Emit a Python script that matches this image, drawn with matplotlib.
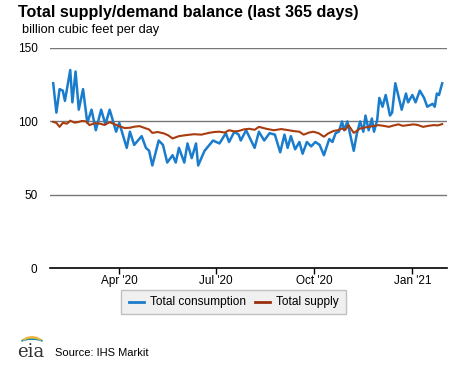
import matplotlib
matplotlib.use("Agg")
import matplotlib.pyplot as plt
from matplotlib.patches import Arc, Rectangle
from matplotlib.lines import Line2D
import pandas as pd

plt.rcParams['font.family'] = ['Liberation Sans', 'DejaVu Sans']

start_date = "2020-01-30"

cons_days = [0, 3, 6, 9, 11, 16, 18, 21, 24, 28, 32, 36, 40, 45, 49, 53, 59, 62,
             69, 72, 76, 83, 87, 90, 93, 99, 103, 107, 112, 115, 118, 123, 126, 130,
             134, 136, 142, 150, 156, 162, 165, 170, 174, 176, 181, 189, 193, 198,
             203, 208, 213, 217, 220, 223, 227, 231, 234, 238, 242, 246, 250, 254,
             259, 262, 265, 268, 271, 273, 276, 279, 282, 285, 288, 291, 293, 296,
             299, 301, 304, 306, 309, 312, 316, 318, 321, 324, 327, 331, 333, 337,
             340, 344, 348, 351, 356, 358, 360, 362, 365]
consumption = [126, 106, 122, 121, 114, 135, 113, 134, 108, 122, 99, 108, 94, 108, 98, 108, 93, 99,
               82, 93, 84, 90, 82, 80, 70, 87, 84, 72, 77, 72, 82, 72, 85, 75,
               85, 70, 80, 87, 85, 92, 86, 93, 91, 87, 94, 82, 93, 87,
               92, 91, 79, 91, 82, 90, 81, 86, 78, 86, 83, 86, 84, 77,
               88, 86, 92, 93, 100, 94, 100, 90, 80, 92, 100, 93, 104, 94,
               102, 93, 101, 116, 110, 118, 104, 106, 126, 117, 108, 119, 113, 118,
               113, 121, 116, 110, 112, 110, 119, 118, 126]

sup_days = [0, 3, 6, 9, 13, 16, 20, 23, 27, 31, 34, 39, 44, 48, 53, 58, 62, 67, 72, 76,
            81, 86, 90, 93, 98, 104, 108, 112, 118, 125, 132, 139, 146, 151, 156, 161,
            165, 170, 174, 179, 184, 189, 193, 200, 207, 214, 221, 226, 231, 235,
            240, 244, 249, 254, 258, 263, 267, 271, 274, 277, 282, 285, 288, 292, 296, 300,
            305, 310, 315, 319, 324, 328, 333, 338, 342, 347, 352, 357, 361, 365]
supply = [99.7, 99.0, 96.3, 99.0, 98.5, 100.5, 99.2, 99.5, 100.3, 100.0, 97.5, 98.8, 98.5, 97.6, 99.5, 98.0, 96.8, 95.5, 95.7, 96.4,
          96.8, 95.5, 94.5, 92.2, 92.8, 91.8, 90.5, 88.4, 90.0, 90.7, 91.3, 91.0, 92.2, 92.8, 93.0, 92.4,
          94.0, 93.2, 93.5, 94.6, 95.0, 94.3, 96.3, 95.0, 94.0, 94.8, 94.0, 93.4, 93.0, 91.0,
          92.4, 93.0, 92.0, 89.6, 91.8, 93.5, 94.0, 95.2, 94.2, 97.5, 92.2, 93.6, 95.2, 95.8, 96.3, 96.8,
          97.5, 97.0, 96.3, 97.2, 98.0, 97.0, 97.5, 98.0, 97.6, 96.3, 97.0, 97.5, 97.3, 98.2]

y_ticks = [0, 50, 100, 150]
x_tick_dates = ["2020-04-01", "2020-07-01", "2020-10-01", "2021-01-01"]
x_tick_labels = ["Apr '20", "Jul '20", "Oct '20", "Jan '21"]

blue = "#1a7ccc"
red = "#a83c0f"

t0 = pd.Timestamp(start_date)
cons_x = t0 + pd.to_timedelta(cons_days, unit="D")
sup_x = t0 + pd.to_timedelta(sup_days, unit="D")

fig = plt.figure(figsize=(4.77, 3.67), dpi=100)
ax = fig.add_axes([50/477, 1-268.3/367, 397/477, 220.3/367])

ax.plot(cons_x, consumption, color=blue, lw=1.8, zorder=3, solid_joinstyle='round')
ax.plot(sup_x, supply, color=red, lw=1.5, zorder=4)

ax.set_ylim(0, 150)
ax.set_xlim(t0 - pd.Timedelta(days=3), t0 + pd.Timedelta(days=369.5))
ax.set_yticks(y_ticks)
ax.set_yticklabels([str(v) for v in y_ticks], fontsize=8.5)
for v in y_ticks[1:]:
    ax.axhline(v, color="#777777", lw=1.0, zorder=1)

ax.set_xticks(pd.to_datetime(x_tick_dates))
ax.set_xticklabels(x_tick_labels, fontsize=8.5)
ax.tick_params(axis='y', length=0, pad=9)
ax.tick_params(axis='x', length=4, width=1, color='black', pad=1)

for s in ['top', 'right', 'left']:
    ax.spines[s].set_visible(False)
ax.spines['bottom'].set_color('black')
ax.spines['bottom'].set_linewidth(1.2)

fig.text(18/477, 1-12/367, "Total supply/demand balance (last 365 days)",
         fontsize=11.6, fontweight='bold', va='center', ha='left')
fig.text(22/477, 1-30/367, "billion cubic feet per day", fontsize=9.2, va='center', ha='left')

# legend box
fig.patches.append(Rectangle((121/477, 1-314/367), 225/477, 24/367, transform=fig.transFigure,
                             facecolor="#f0f0f0", edgecolor="#c0c0c0", lw=1))
fig.lines.append(Line2D([129/477, 144/477], [1-302/367]*2, transform=fig.transFigure, color=blue, lw=2))
fig.text(150/477, 1-302/367, "Total consumption", fontsize=8.6, va='center', ha='left')
fig.lines.append(Line2D([255/477, 270/477], [1-302/367]*2, transform=fig.transFigure, color="#9b2d0e", lw=2))
fig.text(276/477, 1-302/367, "Total supply", fontsize=8.6, va='center', ha='left')

# eia logo
fig.text(31/477, 1-352/367, "eia", fontsize=13, family=['DejaVu Serif'], color="#333333",
         va='center', ha='center')
for (w, c, yy) in [(26, "#1c75bc", 344), (22, "#8dc63f", 343), (18, "#fbb040", 342)]:
    fig.patches.append(Arc((32/477, 1-yy/367), w/477, 10/367, theta1=20, theta2=160,
                           transform=fig.transFigure, color=c, lw=1.3))
fig.text(55/477, 1-353/367, "Source: IHS Markit", fontsize=8, va='center', ha='left')

fig.savefig("out.png", dpi=100)
